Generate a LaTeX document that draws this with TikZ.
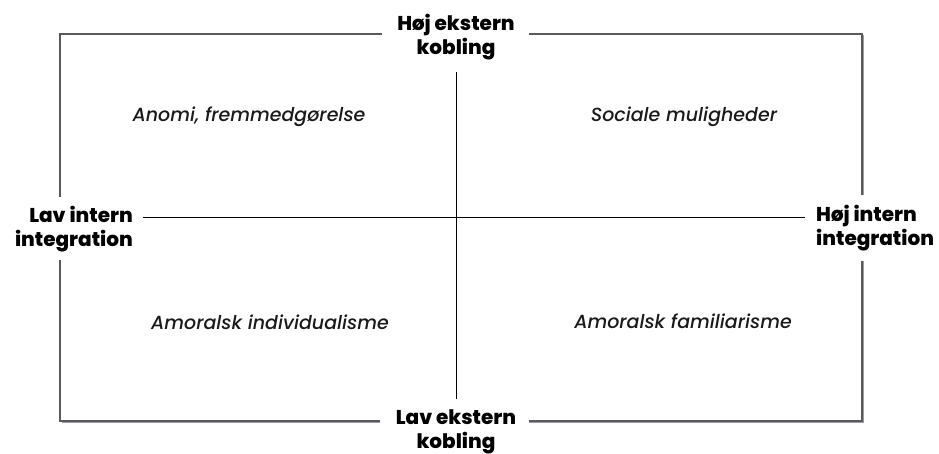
\documentclass[tikz,border=0pt]{standalone}
\usepackage{fontspec}
\setmainfont{Poppins}
\newfontfamily\heavyfont{Poppins ExtraBold}
\newfontfamily\quadfont{Poppins Medium Italic}
\definecolor{framegray}{HTML}{5A5A5A}
\definecolor{shadowgray}{HTML}{9A9AAE}
\definecolor{quadtext}{HTML}{1A1A1A}
\begin{document}
\begin{tikzpicture}[x=1pt,y=-1pt,
  frame/.style={draw=framegray, line width=1.3pt},
  shadowline/.style={draw=shadowgray, line width=1.6pt},
  axis/.style={draw=black, line width=0.8pt},
  axlabel/.style={font=\heavyfont\fontsize{20}{24}\selectfont, inner sep=0pt},
  quad/.style={font=\quadfont\fontsize{19}{22}\selectfont, text=quadtext, inner sep=0pt}]
\useasboundingbox (0,0) rectangle (939,454);
% corners and gap ends
\coordinate (TL) at (60,34);
\coordinate (TR) at (862,34);
\coordinate (BR) at (862,421);
\coordinate (BL) at (60,421);
\coordinate (t1) at (382,34);
\coordinate (t2) at (529,34);
\coordinate (r1) at (862,195);
\coordinate (r2) at (862,261);
\coordinate (b1) at (380,421);
\coordinate (b2) at (529,421);
\coordinate (l1) at (60,197);
\coordinate (l2) at (60,260);
\coordinate (hl) at (143,217);
\coordinate (hr) at (805,217);
\coordinate (vt) at (456,72);
\coordinate (vb) at (456,399);
% labels
\node[axlabel, align=center] (top) at (456,37) {Høj ekstern\\kobling};
\node[axlabel, align=center] (bot) at (456,432) {Lav ekstern\\kobling};
\node[axlabel, align=right, anchor=east] (left) at (133,229) {Lav intern\\integration};
\node[axlabel, align=left, anchor=west] (right) at (816,228) {Høj intern\\integration};
\node[quad] (q1) at (249,117) {Anomi, fremmedgørelse};
\node[quad] (q2) at (684,117) {Sociale muligheder};
\node[quad] (q3) at (270,322) {Amoralsk individualisme};
\node[quad] (q4) at (683,321) {Amoralsk familiarisme};
% shadow
\draw[shadowline] ([shift={(1.5,1.5)}]TR) -- ([shift={(1.5,0)}]r1);
\draw[shadowline] ([shift={(1.5,0)}]r2) -- ([shift={(1.5,1.5)}]BR) -- ([shift={(0,1.5)}]b2);
\draw[shadowline] ([shift={(0,1.5)}]b1) -- ([shift={(1.5,1.5)}]BL);
% frame
\draw[frame] (t1) -- (TL) -- (l1);
\draw[frame] (t2) -- (TR) -- (r1);
\draw[frame] (r2) -- (BR) -- (b2);
\draw[frame] (b1) -- (BL) -- (l2);
% axes
\draw[axis] (hl) -- (hr);
\draw[axis] (vt) -- (vb);
\end{tikzpicture}
\end{document}
